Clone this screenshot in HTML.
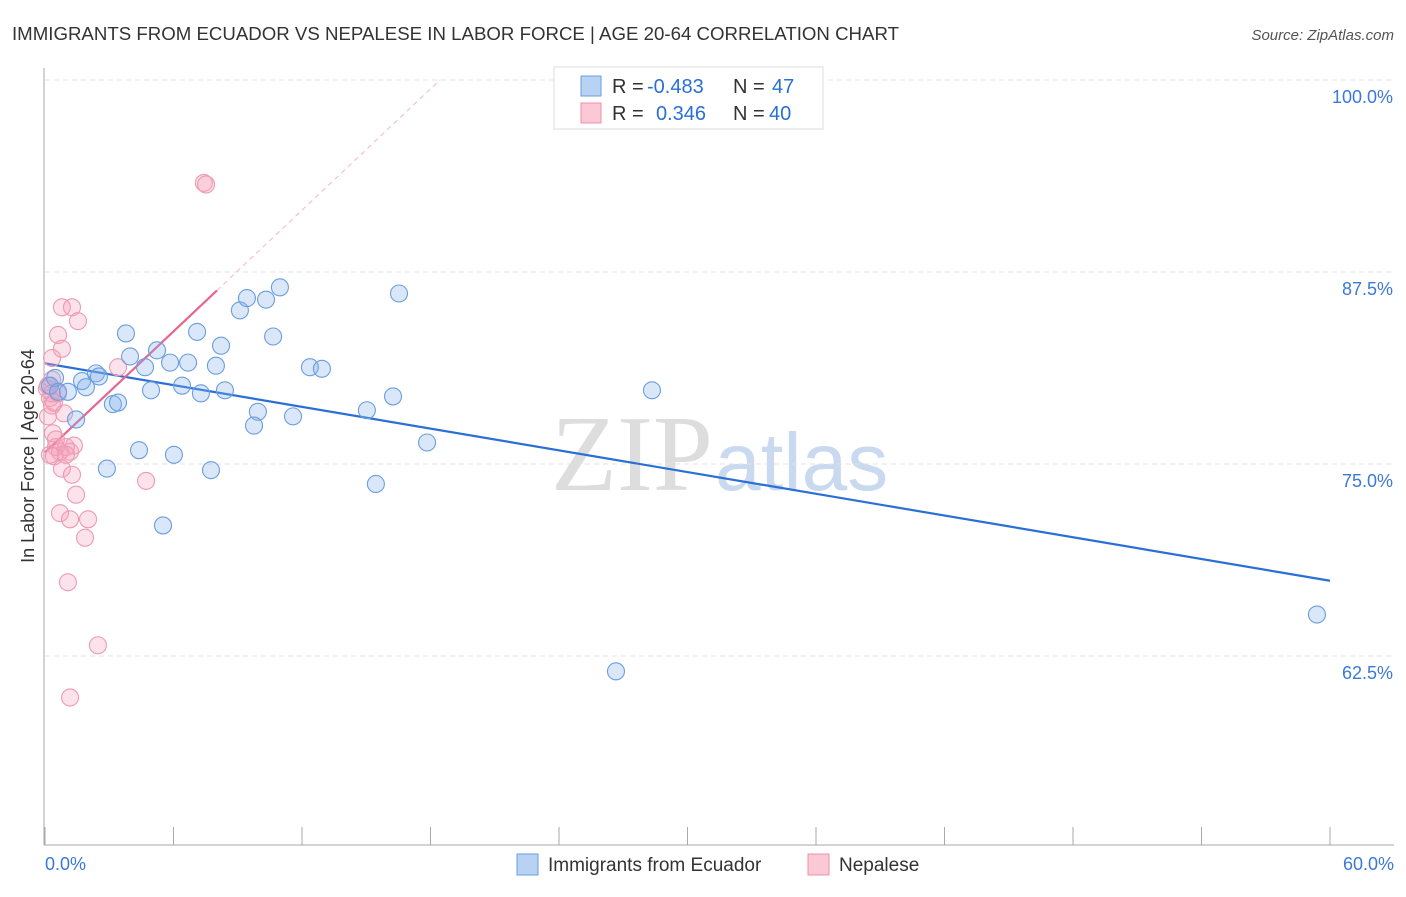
<!DOCTYPE html>
<html><head><meta charset="utf-8"><style>
body{margin:0;background:#fff;font-family:"Liberation Sans",sans-serif}
</style></head><body>
<svg width="1406" height="892" xmlns="http://www.w3.org/2000/svg" font-family="Liberation Sans, sans-serif">
<text x="12" y="40" font-size="18" fill="#333" textLength="887" lengthAdjust="spacingAndGlyphs">IMMIGRANTS FROM ECUADOR VS NEPALESE IN LABOR FORCE | AGE 20-64 CORRELATION CHART</text>
<text x="1394" y="40" font-size="15" fill="#555" font-style="italic" text-anchor="end">Source: ZipAtlas.com</text>
<text x="713" y="490" font-size="108" fill="#ddd" text-anchor="end" font-family="Liberation Serif, serif">ZIP</text>
<text x="715" y="490" font-size="82" fill="#c9d9ef">atlas</text>
<g id="grid"></g><g id="axes"></g><g id="trend"></g><g id="pts"></g>
<g>
<rect x="554" y="67" width="269" height="62" fill="#fff" stroke="#ddd"/>
<rect x="581" y="76" width="20" height="20" fill="#b8d2f4" stroke="#6a9ee0"/>
<rect x="581" y="103" width="20" height="20" fill="#fbc8d6" stroke="#ec8fab"/>
<text x="612" y="93" font-size="20" fill="#333">R =</text>
<text x="647" y="93" font-size="20" fill="#2a6fd6">-0.483</text>
<text x="733" y="93" font-size="20" fill="#333">N =</text>
<text x="772" y="93" font-size="20" fill="#2a6fd6">47</text>
<text x="612" y="120" font-size="20" fill="#333">R =</text>
<text x="656" y="120" font-size="20" fill="#2a6fd6">0.346</text>
<text x="733" y="120" font-size="20" fill="#333">N =</text>
<text x="769" y="120" font-size="20" fill="#2a6fd6">40</text>
</g>
<g>
<rect x="517" y="854" width="21" height="21" fill="#b8d2f4" stroke="#6a9ee0"/>
<text x="548" y="871" font-size="19" fill="#333">Immigrants from Ecuador</text>
<rect x="808" y="854" width="21" height="21" fill="#fbc8d6" stroke="#ec8fab"/>
<text x="839" y="871" font-size="19" fill="#333">Nepalese</text>
</g>
<text x="34" y="456" font-size="18" fill="#333" text-anchor="middle" transform="rotate(-90 34 456)">In Labor Force | Age 20-64</text>
</svg>
<script>
const blueX=[0.47,0.23,0.61,1.07,1.73,1.91,2.38,2.52,1.45,3.17,3.41,2.89,3.78,3.97,4.67,4.95,5.23,4.39,6.02,5.51,5.84,6.40,6.68,7.10,7.28,7.75,7.98,8.22,8.40,9.10,9.43,9.94,9.76,10.32,10.97,10.65,11.58,12.37,12.93,15.03,15.45,16.25,16.53,17.84,28.34,26.66,59.39];
const blueY=[80.6,80.1,79.7,79.7,80.4,80.0,80.9,80.7,77.9,78.9,79.0,74.7,83.5,82.0,81.3,79.8,82.4,75.9,75.6,71.0,81.6,80.1,81.6,83.6,79.6,74.6,81.4,82.7,79.8,85.0,85.8,78.4,77.5,85.7,86.5,83.3,78.1,81.3,81.2,78.5,73.7,79.4,86.1,76.4,79.8,61.5,65.2];
const pinkX=[0.33,0.09,0.23,0.33,0.14,0.79,1.26,1.54,0.61,0.79,0.33,0.89,0.37,0.51,0.70,0.98,1.17,1.35,0.42,0.79,1.26,1.45,0.70,1.17,2.01,1.87,1.07,2.47,1.17,3.41,4.72,7.42,7.52,0.14,0.33,0.51,0.98,0.23,0.61,0.42];
const pinkY=[80.5,79.9,79.3,78.8,78.1,85.2,85.2,84.3,83.4,82.5,81.9,78.3,77.0,76.1,75.8,76.1,75.8,76.2,75.5,74.7,74.3,73.0,71.8,71.4,71.4,70.2,67.3,63.2,59.8,81.3,73.9,93.3,93.2,80.1,79.6,76.6,75.6,75.6,79.6,79.0];
const yTicks=[100,87.5,75,62.5];
const yTickLabels=["100.0%","87.5%","75.0%","62.5%"];
const xTicks=[0,6,12,18,24,30,36,42,48,54,60];
const blueTrend=[[0,81.55],[60,67.4]];
const pinkTrend=[[0,75.75],[8.03,86.3]];
const pinkDash=[[8.03,86.3],[18.44,100]];
const sx=v=>45+v/60*1285, sy=v=>80+(100-v)*15.36;
const NS="http://www.w3.org/2000/svg";
function mk(t,a,p){const e=document.createElementNS(NS,t);for(const k in a)e.setAttribute(k,a[k]);p.appendChild(e);return e;}
const grid=document.getElementById('grid'),axes=document.getElementById('axes'),tr=document.getElementById('trend'),pts=document.getElementById('pts');
yTicks.forEach((v,i)=>{const l=mk('line',{x1:45,x2:1394,y1:sy(v),y2:sy(v),stroke:'#e2e2e2','stroke-dasharray':'5,4'},grid);


const t=mk('text',{x:1393,y:sy(v)+23,'font-size':18,fill:'#3b78d8','text-anchor':'end'},axes);t.textContent=yTickLabels[i];

});
const ya=mk('line',{x1:44,x2:44,y1:68,y2:845,stroke:'#aaa'},axes);


const xa=mk('line',{x1:44,x2:1394,y1:845,y2:845,stroke:'#aaa'},axes);


xTicks.forEach(v=>{const l=mk('line',{x1:sx(v),x2:sx(v),y1:827,y2:845,stroke:'#aaa'},axes);

});
[["0.0%",45,'start'],["60.0%",1394,'end']].forEach(a=>{const t=mk('text',{x:a[1],y:870,'font-size':18,fill:'#3b78d8','text-anchor':a[2]},axes);t.textContent=a[0];

});
function line(p,st,w,dash,name){const l=mk('line',{x1:sx(p[0][0]),y1:sy(p[0][1]),x2:sx(p[1][0]),y2:sy(p[1][1]),stroke:st,'stroke-width':w},tr);if(dash)l.setAttribute('stroke-dasharray',dash);

}
function dots(X,Y,f,s,name){X.forEach((x,i)=>{const c=mk('circle',{cx:sx(x),cy:sy(Y[i]),r:8.5,fill:f,stroke:s,'stroke-width':1.1},pts);

});}
dots(pinkX,pinkY,'rgba(245,160,185,0.3)','#ee9ab3','nepalese-point');
dots(blueX,blueY,'rgba(130,175,235,0.3)','#6a9ee0','ecuador-point');
line(pinkDash,'#f0b8c8',1,'5,4','nepalese-trend-extension');
line(blueTrend,'#2a6fd6',2.2,null,'ecuador-trend-line');
line(pinkTrend,'#e8658f',2.2,null,'nepalese-trend-line');
</script>
</body></html>
